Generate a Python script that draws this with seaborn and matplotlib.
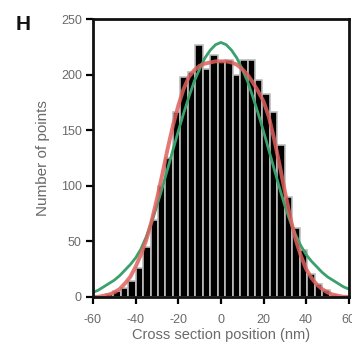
import numpy as np
import pandas as pd
import matplotlib
matplotlib.use("Agg")
import matplotlib.pyplot as plt
import seaborn as sns

# -- histogram (bin centres, counts) --
bin_width = 3.5
bin_centers = [-52.25, -48.75, -45.25, -41.75, -38.25, -34.75, -31.25, -27.75,
               -24.25, -20.75, -17.25, -13.75, -10.25, -6.75, -3.25, 0.25,
               3.75, 7.25, 10.75, 14.25, 17.75, 21.25, 24.75, 28.25,
               31.75, 35.25, 38.75, 42.25, 45.75, 49.25, 52.75]
counts = [3, 5, 8, 14, 26, 45, 69, 100,
          125, 166, 198, 202, 227, 205, 218, 212,
          213, 200, 213, 213, 195, 183, 166, 137,
          90, 62, 42, 21, 12, 6, 2]

# -- fitted curves, read every 2.5 nm --
fit_x = [-60, -57.5, -55, -52.5, -50, -47.5, -45, -42.5, -40, -37.5, -35,
         -32.5, -30, -27.5, -25, -22.5, -20, -17.5, -15, -12.5, -10, -7.5,
         -5, -2.5, 0, 2.5, 5, 7.5, 10, 12.5, 15, 17.5, 20, 22.5, 25, 27.5,
         30, 32.5, 35, 37.5, 40, 42.5, 45, 47.5, 50, 52.5, 55, 57.5, 60]
red_fit = [0, 0, 1, 2, 4, 7, 12, 18, 27, 38, 51, 68, 88, 110, 133, 154,
           172, 187, 198, 204, 208, 210, 211, 212, 212, 212, 211, 209, 205,
           200, 193, 185, 176, 162, 142, 119, 95, 72, 52, 37, 25, 17, 11, 7,
           4, 2, 1, 0, 0]
green_fit = [4, 6, 9, 12, 15, 19, 24, 29, 35, 43, 54, 67, 82, 98, 115, 132,
             149, 165, 180, 194, 205, 215, 222, 227, 229, 227, 222, 215, 205,
             194, 180, 165, 149, 132, 115, 98, 82, 68, 56, 46, 38, 32, 27, 22,
             18, 15, 12, 9, 7]

xticks = [-60, -40, -20, 0, 20, 40, 60]
yticks = [0, 50, 100, 150, 200, 250]

hist_df = pd.DataFrame({"pos": bin_centers, "n": counts})

sns.set_style("ticks")
plt.rcParams["font.family"] = ["Liberation Sans", "DejaVu Sans"]
plt.rcParams["axes.unicode_minus"] = False

fig = plt.figure(figsize=(3.52, 3.48), dpi=100)
ax = fig.add_axes([0.264, 0.147, 0.727, 0.798])

edges = list(np.arange(-54.0, 54.5 + 0.01, bin_width))
sns.histplot(data=hist_df, x="pos", weights="n", bins=edges, color="black",
             edgecolor="#bdbdbd", linewidth=1.2, alpha=1, ax=ax)

# red drawn last, over the green
fit_red = "#e0605c"
fit_green = "#3aa06c"
sns.lineplot(x=fit_x, y=green_fit, color=fit_green, linewidth=2.0, ax=ax)
sns.lineplot(x=fit_x, y=red_fit, color=fit_red, linewidth=2.8, alpha=0.85, ax=ax)

ax.set_xlim(-60, 60)
ax.set_ylim(0, 250)
ax.set_xticks(xticks)
ax.set_yticks(yticks)
ax.tick_params(direction="out", length=5, width=1.6, labelsize=9,
               labelcolor="#6a6a6a", color="black")
ax.tick_params(axis="x", pad=7)
ax.tick_params(axis="y", pad=3)
for s in ax.spines.values():
    s.set_visible(True)
    s.set_linewidth(2)
    s.set_color("#111111")

ax.set_xlabel("Cross section position (nm)", fontsize=10.5, color="#6a6a6a", labelpad=2)
ax.set_ylabel("Number of points", fontsize=11, color="#6a6a6a", labelpad=8)

fig.text(0.045, 0.915, "H", fontsize=15, fontweight="bold", color="#111111")

fig.savefig("out.png", dpi=100)
